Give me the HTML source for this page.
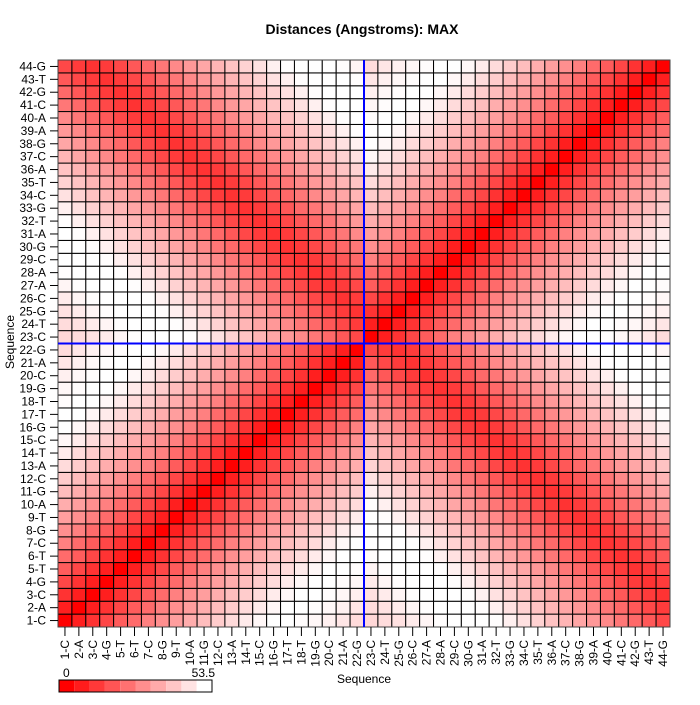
<!DOCTYPE html>
<html><head><meta charset="utf-8"><style>
body{margin:0;background:#fff;}
svg text{font-family:"Liberation Sans",sans-serif;}
</style></head><body>
<svg id="s" width="700" height="700" xmlns="http://www.w3.org/2000/svg"></svg>
<script>
const seq="CACGTTCGTAGCATCGTTGCAGCTGCAACGATGCTACGAACGTG".split("");
const N=44,x0=58,x1=670,y0=60,y1=627,cw=(x1-x0)/N,ch=(y1-y0)/N;
const F=[0,.12,.2,.28,.36,.42,.5,.56,.62,.68,.74,.8,.86,.92,.97,1,1,.99,.97,.94,.9,.86,.84,.82,.8];
function f(n){n=Math.abs(n);return F[Math.min(n,F.length-1)];}
function val(i,j){
 let si=i<=22,sj=j<=22;
 if(si===sj)return f(i-j);
 let a=si?i:j, k=si?45-j:45-i;
 let ff=f(a-k-2);return Math.min(1,Math.sqrt(0.2*0.2+ff*ff));
}
let h='<rect width="700" height="700" fill="#fff"/>';
for(let i=1;i<=N;i++)for(let j=1;j<=N;j++){
 let t=val(i,j);let g=Math.round(255*t);
 let x=x0+(i-1)*cw,y=y1-j*ch;
 h+=`<rect x="${x.toFixed(2)}" y="${y.toFixed(2)}" width="${cw.toFixed(2)}" height="${ch.toFixed(2)}" fill="rgb(255,${g},${g})" stroke="#000" stroke-width="1"/>`;
}
h+=`<rect x="${x0}" y="${y0}" width="${x1-x0}" height="${y1-y0}" fill="none" stroke="#444" stroke-width="1"/>`;
let bx=x0+22*cw,by=y1-22*ch;
h+=`<line x1="${bx}" y1="${y0}" x2="${bx}" y2="${y1}" stroke="#0000ff" stroke-width="2"/>`;
h+=`<line x1="${x0}" y1="${by}" x2="${x1}" y2="${by}" stroke="#0000ff" stroke-width="2"/>`;
for(let i=1;i<=N;i++){
 let lab=i+"-"+seq[i-1];
 let cy=y1-(i-0.5)*ch;
 h+=`<line x1="50" y1="${cy}" x2="${x0}" y2="${cy}" stroke="#000"/>`;
 h+=`<text x="46" y="${cy+4}" font-size="12" text-anchor="end">${lab}</text>`;
 let cx=x0+(i-0.5)*cw;
 h+=`<line x1="${cx}" y1="${y1}" x2="${cx}" y2="636" stroke="#000"/>`;
 h+=`<text transform="translate(${cx+4},640) rotate(-90)" font-size="12" text-anchor="end">${lab}</text>`;
}
h+=`<text x="362" y="34" font-size="14" font-weight="bold" text-anchor="middle">Distances (Angstroms):  MAX</text>`;
h+=`<text x="364" y="683" font-size="12" text-anchor="middle">Sequence</text>`;
h+=`<text transform="translate(14,342) rotate(-90)" font-size="12" text-anchor="middle">Sequence</text>`;
let lw=(212-59)/10;
for(let k=0;k<10;k++){let g=Math.round(255*k/9);h+=`<rect x="${59+k*lw}" y="680" width="${lw}" height="12" fill="rgb(255,${g},${g})"/>`;}
h+=`<rect x="59" y="680" width="153" height="12" fill="none" stroke="#000"/>`;
h+=`<text x="63" y="677" font-size="12">0</text><text x="215" y="677" font-size="12" text-anchor="end">53.5</text>`;
document.getElementById("s").innerHTML=h;
</script>
</body></html>
